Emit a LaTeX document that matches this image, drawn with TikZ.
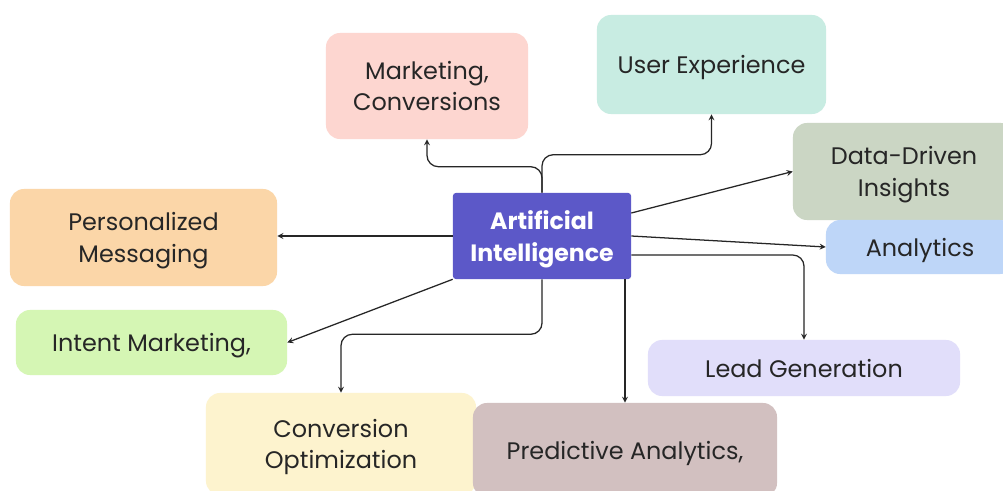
\documentclass[tikz,border=0pt]{standalone}
\usepackage{fontspec}
\setmainfont{Poppins}
\usepackage{tikz}
\usetikzlibrary{shapes.geometric, arrows}
\definecolor{aiblue}{RGB}{92,88,200}
\definecolor{mktpink}{RGB}{253,214,208}
\definecolor{uxmint}{RGB}{200,236,226}
\definecolor{ddisage}{RGB}{203,214,196}
\definecolor{anablue}{RGB}{190,214,248}
\definecolor{pmpeach}{RGB}{251,214,168}
\definecolor{imgreen}{RGB}{213,246,180}
\definecolor{cocream}{RGB}{253,243,206}
\definecolor{pamauve}{RGB}{210,192,192}
\definecolor{lglav}{RGB}{225,222,250}
\tikzstyle{topic} = [rectangle, rounded corners=10pt, text centered, align=center, inner sep=0pt, text depth=0pt, text=black!85, font=\fontsize{17}{22.5}\selectfont]
\tikzstyle{core} = [rectangle, rounded corners=2pt, text centered, align=center, inner sep=0pt, text depth=0pt, text=white, font=\bfseries\fontsize{16.8}{22.5}\selectfont]
\tikzstyle{link} = [->, >=stealth, line width=0.9pt, black!85]
\usetikzlibrary{positioning, calc}

\begin{document}
\begin{tikzpicture}[x=0.025cm, y=-0.025cm]
        \useasboundingbox[fill=white] (0,0) rectangle (1003,491);

        \node[core, fill=aiblue, minimum width=4.45cm, minimum height=2.15cm] (ai) at (542,236) {Artificial\\Intelligence};

        \node[topic, fill=mktpink, minimum width=5.05cm, minimum height=2.65cm] (mkt) at (427,86) {Marketing,\\Conversions};
        \node[topic, fill=uxmint, minimum width=5.725cm, minimum height=2.475cm] (ux) at (711.5,64.5) {User Experience};
        \node[topic, fill=ddisage, minimum width=5.55cm, minimum height=2.425cm] (ddi) at (904,171.5) {Data-Driven\\Insights};
        \node[topic, fill=anablue, minimum width=4.7cm, minimum height=1.35cm] (ana) at (920,247) {Analytics};

        \node[topic, fill=pmpeach, minimum width=6.675cm, minimum height=2.425cm] (pm) at (143.5,237.5) {Personalized\\Messaging};
        \node[topic, fill=imgreen, minimum width=6.775cm, minimum height=1.625cm] (im) at (151.5,342.5) {Intent Marketing,};

        \node[topic, fill=lglav, minimum width=7.8cm, minimum height=1.4cm] (lg) at (804,368) {Lead Generation};
        \node[topic, fill=cocream, minimum width=6.75cm, minimum height=2.55cm] (co) at (341,444) {Conversion\\Optimization};
        \node[topic, fill=pamauve, minimum width=7.6cm, minimum height=2.35cm] (pa) at (625,450) {Predictive Analytics,};

        % upwards
        \draw [link, rounded corners=8pt] (ai.north) -- ++(0,-26) -| (mkt.south);
        \draw [link, rounded corners=8pt] (ai.north) -- ++(0,-38) -| (ux.south);

        % to the right
        \draw [link] ($(ai.east)+(0,-23)$) -- (ddi.west);
        \draw [link] (ai.east) -- (ana.west);
        \draw [link, rounded corners=8pt] ($(ai.east)+(0,19)$) -| (lg.north);

        % to the left
        \draw [link] (ai.west) -- (ai.west -| pm.east);
        \draw [link] (ai.south west) -- (im.east);

        % downwards
        \draw [link] (ai.south -| pa.north) -- (pa.north);
        \draw [link, rounded corners=8pt] (ai.south) -- ++(0,55) -| (co.north);

    \end{tikzpicture}
\end{document}
